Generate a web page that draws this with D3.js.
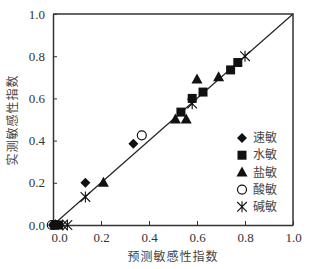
<!DOCTYPE html>
<html>
<head>
<meta charset="utf-8">
<script src="https://cdn.jsdelivr.net/npm/d3@7"></script>
<style>
  body { margin: 0; background: #fff; }
  .tick text { font-family: "Liberation Serif", serif; font-size: 13px; fill: #333; }
  .cn { font-family: "Noto Sans CJK SC", sans-serif; font-size: 12px; fill: #444; }
</style>
</head>
<body>
<svg id="chart" width="310" height="269"></svg>
<script>
// values
var speedX = [0, 0.015, 0.135, 0.335];
var speedY = [0, 0, 0.2, 0.385];
var waterX = [0.02, 0.533, 0.58, 0.625, 0.74, 0.77];
var waterY = [0, 0.535, 0.6, 0.63, 0.735, 0.77];
var saltX = [0.01, 0.21, 0.51, 0.555, 0.6, 0.69];
var saltY = [0, 0.2, 0.5, 0.5, 0.69, 0.7];
var acidX = [-0.005, 0.005, 0.37];
var acidY = [0, 0, 0.425];
var alkaliX = [0.04, 0.06, 0.135, 0.58, 0.8];
var alkaliY = [0, 0, 0.133, 0.575, 0.8];
var tickVals = [0, 0.2, 0.4, 0.6, 0.8, 1.0];
var names = ["速敏", "水敏", "盐敏", "酸敏", "碱敏"];

var svg = d3.select("#chart");
var x = d3.scaleLinear().domain([0, 1]).range([53, 293]);
var y = d3.scaleLinear().domain([0, 1]).range([225, 14]);

// frame top & right
svg.append("path")
  .attr("d", "M" + x(0) + "," + y(1) + "H" + x(1) + "V" + y(0))
  .attr("fill", "none").attr("stroke", "#333").attr("stroke-width", 1.5);

var xAxis = svg.append("g").attr("transform", "translate(0," + y(0) + ")")
  .call(d3.axisBottom(x).tickValues(tickVals).tickFormat(d3.format(".1f")).tickSizeInner(-4).tickSizeOuter(0).tickPadding(9));
var yAxis = svg.append("g").attr("transform", "translate(" + x(0) + ",0)")
  .call(d3.axisLeft(y).tickValues(tickVals).tickFormat(d3.format(".1f")).tickSizeInner(-4).tickSizeOuter(0).tickPadding(8));
[xAxis, yAxis].forEach(function(g){
  g.select(".domain").attr("stroke", "#333").attr("stroke-width", 1.5);
  g.selectAll(".tick line").attr("stroke", "#333");
});
xAxis.selectAll(".tick text").attr("dy", "0.6em");
xAxis.selectAll(".tick text").filter(function(d){ return d === 0; }).attr("dx", 6);

// 1:1 line
svg.append("line")
  .attr("x1", x(0)).attr("y1", y(0)).attr("x2", x(1)).attr("y2", y(1))
  .attr("stroke", "#222").attr("stroke-width", 1.2);

function shape(kind) {
  if (kind === "diamond") return "M0,-5L5,0L0,5L-5,0Z";
  if (kind === "square") return "M-4.5,-4.5H4.5V4.5H-4.5Z";
  if (kind === "triangle") return "M0,-6L5.5,4L-5.5,4Z";
  if (kind === "circle") return "M4.5,0A4.5,4.5 0 1,1 -4.5,0A4.5,4.5 0 1,1 4.5,0Z";
  return "M0,-5.5V5.5M-4.8,-4.8L4.8,4.8M-4.8,4.8L4.8,-4.8";
}
function styleMark(sel, kind) {
  if (kind === "circle") sel.attr("fill", "#fff").attr("stroke", "#111").attr("stroke-width", 1.2);
  else if (kind === "star") sel.attr("fill", "none").attr("stroke", "#111").attr("stroke-width", 1.1);
  else sel.attr("fill", "#111");
}

var series = [
  {kind: "diamond", xs: speedX, ys: speedY},
  {kind: "square", xs: waterX, ys: waterY},
  {kind: "triangle", xs: saltX, ys: saltY},
  {kind: "circle", xs: acidX, ys: acidY},
  {kind: "star", xs: alkaliX, ys: alkaliY}
];
var drawOrder = [3, 0, 1, 2, 4];
drawOrder.forEach(function(i){
  var s = series[i];
  var pts = s.xs.map(function(v, j){ return [v, s.ys[j]]; });
  var m = svg.append("g").selectAll("path").data(pts).enter().append("path")
    .attr("d", shape(s.kind))
    .attr("transform", function(d){ return "translate(" + x(d[0]) + "," + y(d[1]) + ")"; });
  styleMark(m, s.kind);
});

// legend
var leg = svg.append("g");
series.forEach(function(s, i){
  var ly = 138 + i * 17.2;
  var m = leg.append("path").attr("d", shape(s.kind)).attr("transform", "translate(242," + ly + ")");
  styleMark(m, s.kind);
  leg.append("text").attr("class", "cn").attr("x", 253).attr("y", ly).attr("dy", "0.35em").text(names[i]);
});

// axis titles
svg.append("text").attr("class", "cn").attr("x", 173).attr("y", 257).attr("dy", "0.35em")
  .attr("text-anchor", "middle").attr("letter-spacing", 1).text("预测敏感性指数");
svg.append("text").attr("class", "cn").attr("transform", "translate(13,120) rotate(-90)")
  .attr("dy", "0.35em").attr("text-anchor", "middle").attr("letter-spacing", 1).text("实测敏感性指数");
</script>
</body>
</html>
